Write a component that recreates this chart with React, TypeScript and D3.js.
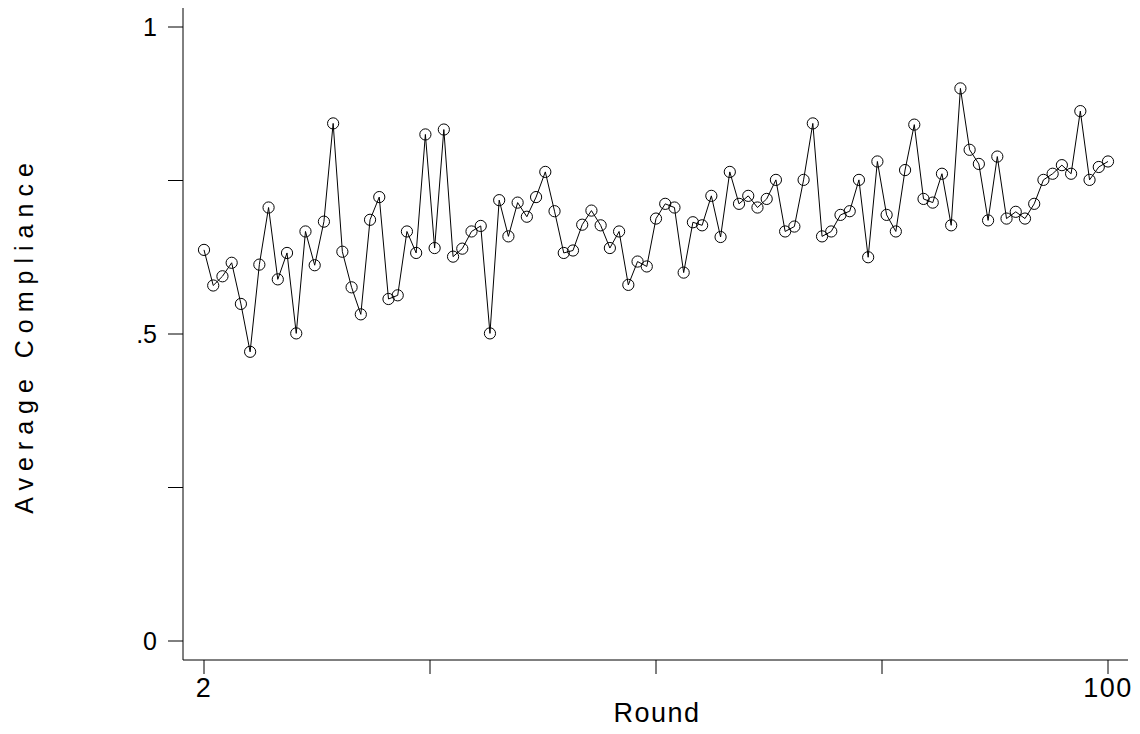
import React from "react";
import * as d3 from "d3";

// rounds 2..100
const rounds: number[] = d3.range(2, 101);
const compliance: number[] = [
  0.637, 0.579, 0.594, 0.616, 0.549, 0.471, 0.613, 0.706, 0.589, 0.632,
  0.501, 0.667, 0.612, 0.683, 0.843, 0.634, 0.576, 0.532, 0.686, 0.723,
  0.557, 0.563, 0.667, 0.632, 0.825, 0.640, 0.833, 0.626, 0.639, 0.667,
  0.676, 0.501, 0.718, 0.659, 0.714, 0.691, 0.723, 0.764, 0.700, 0.632,
  0.636, 0.678, 0.701, 0.677, 0.640, 0.667, 0.580, 0.618, 0.610, 0.688,
  0.712, 0.706, 0.600, 0.682, 0.677, 0.725, 0.658, 0.764, 0.712, 0.725,
  0.706, 0.720, 0.751, 0.667, 0.675, 0.751, 0.843, 0.659, 0.667, 0.694,
  0.700, 0.751, 0.625, 0.781, 0.694, 0.667, 0.767, 0.841, 0.720, 0.714,
  0.761, 0.677, 0.900, 0.800, 0.777, 0.685, 0.789, 0.688, 0.699, 0.688,
  0.712, 0.751, 0.761, 0.775, 0.761, 0.863, 0.751, 0.772, 0.781,
];
const yTicks = [0, 0.25, 0.5, 0.75, 1];
const yTickLabels = ["0", "", ".5", "", "1"];
const xTicks = [2, 26.5, 51, 75.5, 100];
const xTickLabels = ["2", "", "", "", "100"];

const W = 1140;
const H = 734;
const font = "'Liberation Sans', Arial, sans-serif";

export default function App() {
  const x = d3.scaleLinear().domain([2, 100]).range([204, 1108]);
  const y = d3.scaleLinear().domain([0, 1]).range([641, 27]);
  const axisX = 183;
  const axisY = 660;

  const line = d3
    .line<number>()
    .x((_, i) => x(rounds[i]))
    .y((d) => y(d));

  return (
    <div style={{ position: "fixed", left: 0, top: 0 }}>
      <svg width={W} height={H} style={{ display: "block", background: "#fff" }}>
        {/* y axis */}
        <line x1={axisX} x2={axisX} y1={8} y2={axisY} stroke="#000" strokeWidth={1} />
        {yTicks.map((t, i) => (
          <g key={"y" + i}>
            <line x1={axisX - 15} x2={axisX} y1={y(t)} y2={y(t)} stroke="#000" />
            <text
              x={157}
              y={y(t)}
              dy="0.36em"
              textAnchor="end"
              fontFamily={font}
              fontSize={25}
            >
              {yTickLabels[i]}
            </text>
          </g>
        ))}
        <text
          transform={`translate(33, 335) rotate(-90)`}
          textAnchor="middle"
          fontFamily={font}
          fontSize={25}
          letterSpacing={7}
        >
          Average Compliance
        </text>

        {/* x axis */}
        <line x1={axisX} x2={1128} y1={axisY} y2={axisY} stroke="#000" strokeWidth={1} />
        {xTicks.map((t, i) => (
          <g key={"x" + i}>
            <line x1={x(t)} x2={x(t)} y1={axisY} y2={axisY + 14} stroke="#000" />
            <text
              x={x(t)}
              y={697}
              textAnchor="middle"
              fontFamily={font}
              fontSize={27}
              letterSpacing={1.5}
            >
              {xTickLabels[i]}
            </text>
          </g>
        ))}
        <text
          x={657}
          y={722}
          textAnchor="middle"
          fontFamily={font}
          fontSize={27}
          letterSpacing={1.5}
        >
          Round
        </text>

        {/* series */}
        <path d={line(compliance) || ""} fill="none" stroke="#000" strokeWidth={1} />
        {compliance.map((v, i) => (
          <circle
            key={i}
            cx={x(rounds[i])}
            cy={y(v)}
            r={5.6}
            fill="none"
            stroke="#000"
            strokeWidth={1}
          />
        ))}
      </svg>
    </div>
  );
}
